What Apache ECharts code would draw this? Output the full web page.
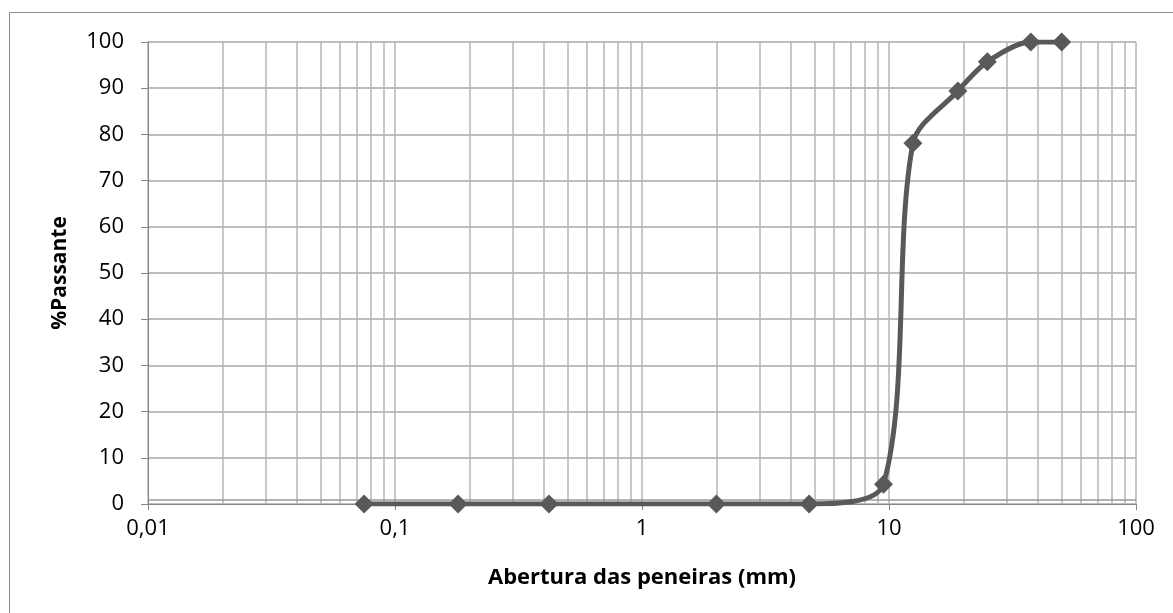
<!DOCTYPE html>
<html>
<head>
<meta charset="utf-8">
<script src="https://cdn.jsdelivr.net/npm/echarts@6/dist/echarts.min.js"></script>
<style>
html,body{margin:0;padding:0;background:#fff;}
#c{width:1173px;height:613px;}
</style>
</head>
<body>
<div id="c"></div>
<script>
// Sieve openings (mm) and % passing
const aberturas = [0.075, 0.18, 0.42, 2.0, 4.75, 9.5, 12.5, 19, 25, 37.5, 50];
const passante  = [0, 0, 0, 0, 0, 4.3, 78.1, 89.4, 95.7, 100, 100];
const yTicks = [0, 10, 20, 30, 40, 50, 60, 70, 80, 90, 100];
const decades = [0.01, 0.1, 1, 10];
const minorMult = [2, 3, 4, 5, 6, 7, 8, 9];
const xTitle = 'Abertura das peneiras (mm)';
const yTitle = '%Passante';

const minorLines = [];
decades.forEach(d => minorMult.forEach(m => minorLines.push({xAxis: +(d * m).toPrecision(6)})));

const FONT = 'Open Sans';
const chart = echarts.init(document.getElementById('c'), null, {renderer: 'canvas'});
chart.setOption({
  animation: false,
  backgroundColor: '#fff',
  graphic: [{
    type: 'rect', shape: {x: 9.5, y: 12.5, width: 1200, height: 700},
    style: {fill: 'none', stroke: '#8c8c8c', lineWidth: 1}, silent: true, z: -1
  }],
  grid: {left: 148, right: 37, top: 42, bottom: 109},
  xAxis: {
    type: 'log', logBase: 10, min: 0.01, max: 100,
    name: xTitle, nameLocation: 'middle', nameGap: 63,
    nameTextStyle: {fontFamily: FONT, fontSize: 22, fontWeight: 'bold', color: '#000'},
    axisLine: {show: true, lineStyle: {color: '#868686', width: 1}},
    axisTick: {show: true, length: 6, lineStyle: {color: '#868686'}},
    axisLabel: {margin: 14, fontFamily: FONT, fontSize: 22, color: '#000',
      formatter: v => String(v).replace('.', ',')},
    splitLine: {show: true, lineStyle: {color: '#b4b4b4', width: 1.5}}
  },
  yAxis: {
    type: 'value', min: 0, max: 100, interval: 10,
    name: yTitle, nameLocation: 'middle', nameGap: 77, nameRotate: 90,
    nameTextStyle: {fontFamily: FONT, fontSize: 21, fontWeight: 'bold', color: '#000'},
    axisLine: {show: true, lineStyle: {color: '#868686', width: 1}},
    axisTick: {show: true, length: 7, lineStyle: {color: '#868686'}},
    axisLabel: {margin: 24, fontFamily: FONT, fontSize: 22, color: '#000'},
    splitLine: {show: true, lineStyle: {color: '#a8a8a8', width: 1.5}}
  },
  series: [{
    type: 'line', data: [], silent: true,
    markLine: {
      silent: true, symbol: 'none', label: {show: false},
      lineStyle: {color: '#b4b4b4', width: 1.5, type: 'solid'},
      data: minorLines.concat([{yAxis: 0.9, lineStyle: {color: '#9a9a9a', width: 1.5}}])
    }
  }, {
    type: 'line',
    data: aberturas.map((x, i) => [x, passante[i]]),
    smooth: 0.3,
    symbol: 'diamond', symbolSize: 19,
    itemStyle: {color: '#595959'},
    lineStyle: {color: '#595959', width: 5},
    z: 5
  }]
});
</script>
</body>
</html>
